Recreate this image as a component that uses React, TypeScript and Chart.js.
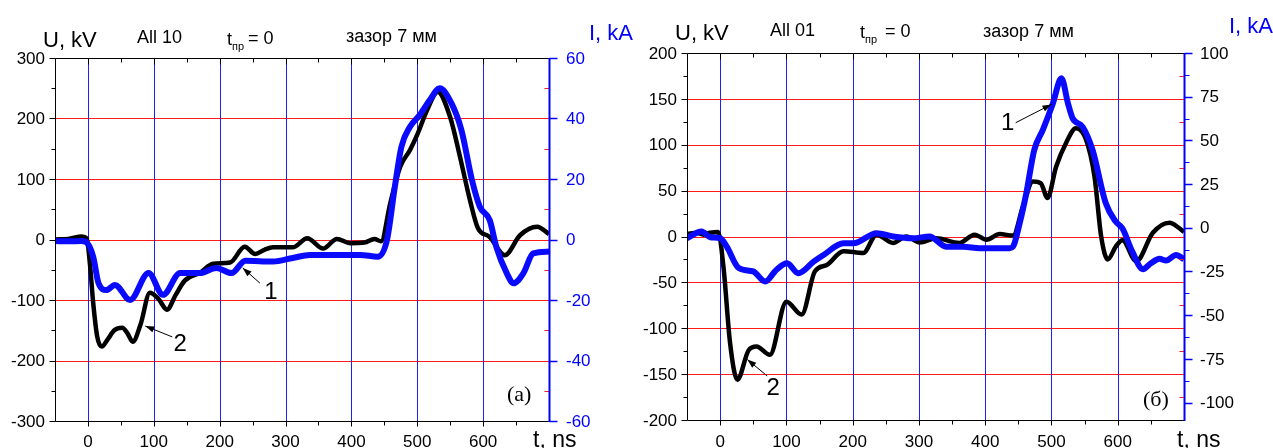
import React, { useEffect, useRef } from "react";
import { Chart, registerables } from "chart.js";
Chart.register(...registerables);

// ---------- Panel (a) ----------
const A_U_T = [-50, -30, -9, -2, 3, 8, 14, 21, 30, 40, 52, 60, 68, 80, 94, 107, 120, 133, 147, 170, 190, 216, 238, 254, 268, 281, 311, 333, 357, 378, 398, 420, 435, 445, 459, 474, 489, 501, 515, 531, 550, 565, 580, 592, 610, 633, 656, 682, 700];
const A_U = [0, 1, 5, 2, -40, -105, -160, -177, -165, -150, -146, -155, -169, -140, -88, -98, -116, -92, -68, -55, -40, -38, -12, -24, -17, -13, -13, 2, -15, 1, -6, -5, 1, -3, 60, 120, 148, 176, 214, 244, 202, 136, 65, 19, 4, -26, 7, 21, 9];
const A_I_T = [-50, -30, -10, -3, 8, 16, 28, 41, 64, 92, 114, 140, 170, 195, 218, 239, 281, 311, 337, 413, 440, 454, 466, 476, 489, 504, 519, 534, 552, 567, 583, 595, 610, 620, 636, 646, 661, 676, 700];
const A_I = [-0.5, -0.6, -0.5, -0.8, -5.7, -14.4, -16.7, -15, -20, -11.1, -18.3, -11.1, -11.1, -9.4, -11.1, -7, -7.3, -6.1, -5.1, -5.1, -5.7, -0.2, 17.5, 30.7, 37.3, 41.2, 46.1, 50, 45, 36.2, 19.7, 10.8, 6.4, -2.4, -11.2, -14.5, -11.2, -4.6, -4];

// ---------- Panel (б) ----------
const B_U_T = [-50, -35, -25, -15, -3, 5, 15, 26, 43, 55, 75, 100, 123, 143, 161, 186, 216, 236, 261, 281, 301, 326, 361, 384, 402, 422, 442, 457, 472, 484, 494, 507, 522, 537, 552, 565, 575, 585, 597, 607, 628, 653, 678, 693, 700];
const B_U = [3, 4, 2, 4, 5, -33, -116, -156, -124, -120, -129, -71, -85, -38, -31, -16, -18, 2, -7, 0, -6.5, -2, -7, 2, -3.6, 2.6, 1, 33, 60, 58, 42, 76, 102, 118, 106, 65, 0, -25, -11, -4, -27, 4, 15, 9, 5];
const B_I_T = [-50, -28, -15, 0, 10, 28, 50, 68, 85, 101, 118, 141, 156, 186, 201, 236, 261, 291, 316, 341, 367, 392, 437, 442, 452, 462, 474, 487, 502, 515, 525, 532, 547, 562, 582, 597, 607, 622, 638, 650, 663, 673, 688, 700];
const B_I = [-6, -2.2, -5.4, -6, -10.8, -23, -25, -30.8, -24, -20.3, -26, -19.4, -15.6, -8.9, -8.9, -3.1, -5, -6, -5, -10.8, -10.8, -11.7, -11.7, -10.8, 2.6, 19.7, 44.5, 56, 71, 85.5, 71, 62.6, 57.8, 44.5, 14, 3.5, -0.3, -13.7, -23.7, -20.3, -17.8, -18.8, -15.6, -18];

// ---------- Ticks ----------
const X_TICKS = [0, 100, 200, 300, 400, 500, 600];
const A_KV_TICKS = [-300, -200, -100, 0, 100, 200, 300];
const A_KA_TICKS = [-60, -40, -20, 0, 20, 40, 60];
const B_KV_TICKS = [-200, -150, -100, -50, 0, 50, 100, 150, 200];
const B_KA_TICKS = [-100, -75, -50, -25, 0, 25, 50, 75, 100];

// annotations: [label, tipT, tipU, tailT, tailU, labelT, labelU]
const A_NOTES: [string, number, number, number, number, number, number][] = [
  ["1", 235, -47, 261, -72, 278, -88],
  ["2", 87, -143, 128, -161, 140, -174],
];
const B_NOTES: [string, number, number, number, number, number, number][] = [
  ["1", 500, 144, 446, 124, 434, 123],
  ["2", 41, -134, 71, -152, 80, -165],
];

const SANS = "'Liberation Sans', Arial, sans-serif";
const SERIF = "'Liberation Serif', 'Times New Roman', serif";

type Panel = {
  width: number;
  offset: number;
  padding: { left: number; right: number; top: number; bottom: number };
  uT: number[]; u: number[]; iT: number[]; i: number[];
  kvTicks: number[]; kaTicks: number[];
  kvMinor: number; kaMinor: number | null;
  kaLabelColor: string; kaLabelX: number;
  kvLabelX: number;
  notes: [string, number, number, number, number, number, number][];
  texts: { t: string; x: number; y: number; font: string; color: string; align?: CanvasTextAlign }[];
};

function num(v: number) {
  return String(v);
}

function makePlugin(p: Panel) {
  return {
    id: "decor",
    beforeDatasetsDraw(chart: any) {
      const { ctx, chartArea: a, scales } = chart;
      const xs = scales.x, ys = scales.y;
      ctx.save();
      ctx.lineWidth = 1;
      ctx.strokeStyle = "#ff1a1a";
      const kmin = p.kvTicks[0], kmax = p.kvTicks[p.kvTicks.length - 1];
      for (const v of p.kvTicks) {
        if (v === kmin || v === kmax) continue;
        const py = Math.round(ys.getPixelForValue(v)) + 0.5;
        ctx.beginPath(); ctx.moveTo(a.left, py); ctx.lineTo(a.right, py); ctx.stroke();
      }
      ctx.strokeStyle = "#2020ff";
      for (const v of X_TICKS) {
        const px = Math.round(xs.getPixelForValue(v)) + 0.5;
        ctx.beginPath(); ctx.moveTo(px, a.top); ctx.lineTo(px, a.bottom); ctx.stroke();
      }
      ctx.restore();
    },
    afterDraw(chart: any) {
      const { ctx, chartArea: a, scales } = chart;
      const xs = scales.x, ys = scales.y, ys1 = scales.y1;
      ctx.save();
      const L = a.left + 0.5, R = a.right + 0.5, T = a.top + 0.5, B = a.bottom + 0.5;
      const line = (x1: number, y1: number, x2: number, y2: number, c: string, w = 1) => {
        ctx.strokeStyle = c; ctx.lineWidth = w;
        ctx.beginPath(); ctx.moveTo(x1, y1); ctx.lineTo(x2, y2); ctx.stroke();
      };
      // x ticks (bottom outward, top inward)
      for (let v = -50; v <= 700; v += 50) {
        const px = Math.round(xs.getPixelForValue(v)) + 0.5;
        const major = v % 100 === 0;
        if (v === -50 || v === 700) continue;
        line(px, B, px, B + (major ? 5 : 4), "#000");
        line(px, T, px, T + (major ? 6 : 4), "#000");
      }
      // left kV ticks outward
      const kmin = p.kvTicks[0], kmax = p.kvTicks[p.kvTicks.length - 1];
      const kstep = p.kvTicks[1] - p.kvTicks[0];
      for (let v = kmin; v <= kmax + 1e-6; v += p.kvMinor) {
        const py = Math.round(ys.getPixelForValue(v)) + 0.5;
        const major = Math.abs((v - kmin) % kstep) < 1e-6;
        line(L - (major ? 6 : 4), py, L, py, "#000");
        // red inward ticks on right axis
        line(R - 5, py, R, py, "#ff1a1a", 1);
      }
      // right kA ticks outward
      const amin = ys1.min, amax = ys1.max;
      if (p.kaMinor) {
        for (let v = -200; v <= 200; v += p.kaMinor) {
          if (v < amin || v > amax) continue;
          const py = Math.round(ys1.getPixelForValue(v)) + 0.5;
          line(R, py, R + 5, py, "#0000ff");
        }
      }
      for (const v of p.kaTicks) {
        const py = Math.round(ys1.getPixelForValue(v)) + 0.5;
        line(R, py, R + 8, py, "#0000ff", 1.5);
      }
      // axis lines
      line(L, T, R, T, "#000");
      line(L, B, R, B, "#000");
      line(L, T, L, B, "#000");
      line(R, T - 0.5, R, B + 0.5, "#0000ff", 2);

      // tick labels
      ctx.font = `17px ${SANS}`;
      ctx.fillStyle = "#000";
      ctx.textBaseline = "alphabetic";
      ctx.textAlign = "center";
      for (const v of X_TICKS) {
        ctx.fillText(num(v), xs.getPixelForValue(v), 447);
      }
      ctx.textAlign = "right";
      ctx.textBaseline = "middle";
      for (const v of p.kvTicks) {
        ctx.fillText(num(v), p.kvLabelX, ys.getPixelForValue(v) + 1);
      }
      ctx.textAlign = "left";
      ctx.fillStyle = p.kaLabelColor;
      for (const v of p.kaTicks) {
        ctx.fillText(num(v), p.kaLabelX, ys1.getPixelForValue(v) + 1);
      }

      // annotations
      ctx.fillStyle = "#000";
      for (const [lab, tt, tu, at, au, lt, lu] of p.notes) {
        const x1 = xs.getPixelForValue(at), y1 = ys.getPixelForValue(au);
        const x2 = xs.getPixelForValue(tt), y2 = ys.getPixelForValue(tu);
        line(x1, y1, x2, y2, "#000", 1);
        const ang = Math.atan2(y2 - y1, x2 - x1);
        const hl = 9, hw = 3.2;
        ctx.beginPath();
        ctx.moveTo(x2, y2);
        ctx.lineTo(x2 - hl * Math.cos(ang) + hw * Math.sin(ang), y2 - hl * Math.sin(ang) - hw * Math.cos(ang));
        ctx.lineTo(x2 - hl * Math.cos(ang) - hw * Math.sin(ang), y2 - hl * Math.sin(ang) + hw * Math.cos(ang));
        ctx.closePath();
        ctx.fill();
        ctx.font = `24px ${SANS}`;
        ctx.textAlign = "center";
        ctx.textBaseline = "middle";
        ctx.fillText(lab, xs.getPixelForValue(lt), ys.getPixelForValue(lu));
      }

      // free texts
      ctx.textBaseline = "alphabetic";
      for (const tx of p.texts) {
        ctx.font = tx.font;
        ctx.fillStyle = tx.color;
        ctx.textAlign = tx.align || "left";
        ctx.fillText(tx.t, tx.x, tx.y);
      }
      ctx.restore();
    },
  };
}

function pts(t: number[], v: number[]) {
  return t.map((x, k) => ({ x, y: v[k] }));
}

function PanelChart({ p }: { p: Panel }) {
  const ref = useRef<HTMLCanvasElement>(null);
  useEffect(() => {
    if (!ref.current) return;
    const chart = new Chart(ref.current, {
      type: "line",
      data: {
        datasets: [
          {
            data: pts(p.iT, p.i),
            yAxisID: "y1",
            borderColor: "#0a0aff",
            borderWidth: 6,
            pointRadius: 0,
            cubicInterpolationMode: "monotone",
            fill: false,
          },
          {
            data: pts(p.uT, p.u),
            yAxisID: "y",
            borderColor: "#000000",
            borderWidth: 4.5,
            pointRadius: 0,
            cubicInterpolationMode: "monotone",
            fill: false,
          },
        ],
      },
      options: {
        responsive: false,
        animation: false,
        events: [],
        layout: { padding: p.padding },
        plugins: { legend: { display: false }, tooltip: { enabled: false } },
        scales: {
          x: { type: "linear", min: -50, max: 700, display: false },
          y: { type: "linear", min: p.kvTicks[0], max: p.kvTicks[p.kvTicks.length - 1], display: false },
          y1: { type: "linear", min: p.kaTicks[0] === -100 ? -110 : p.kaTicks[0], max: p.kaTicks[p.kaTicks.length - 1], display: false, position: "right" },
        },
      } as any,
      plugins: [makePlugin(p)],
    });
    return () => chart.destroy();
  }, []);
  return (
    <canvas
      ref={ref}
      width={p.width}
      height={448}
      style={{ position: "absolute", left: p.offset, top: 0, width: p.width, height: 448, display: "block" }}
    />
  );
}

const F17 = `18px ${SANS}`;
const F22 = `22px ${SANS}`;

const PANEL_A: Panel = {
  width: 640,
  offset: 0,
  padding: { left: 55, right: 91, top: 58, bottom: 27 },
  uT: A_U_T, u: A_U, iT: A_I_T, i: A_I,
  kvTicks: A_KV_TICKS, kaTicks: A_KA_TICKS,
  kvMinor: 50, kaMinor: null,
  kaLabelColor: "#0000ff", kaLabelX: 566,
  kvLabelX: 45,
  notes: A_NOTES,
  texts: [
    { t: "U, kV", x: 43, y: 47, font: F22, color: "#000" },
    { t: "All 10", x: 137, y: 43, font: F17, color: "#000" },
    { t: "t", x: 227, y: 45, font: F17, color: "#000" },
    { t: "пр", x: 232, y: 50, font: `11px ${SANS}`, color: "#000" },
    { t: "= 0", x: 248, y: 44, font: F17, color: "#000" },
    { t: "зазор 7 мм", x: 346, y: 42, font: F17, color: "#000" },
    { t: "I, kA", x: 589, y: 40, font: F22, color: "#0000ff" },
    { t: "(a)", x: 507, y: 401, font: `22px ${SERIF}`, color: "#000" },
    { t: "t, ns", x: 533, y: 447, font: `23px ${SANS}`, color: "#000" },
  ],
};

const PANEL_B: Panel = {
  width: 633,
  offset: 640,
  padding: { left: 47, right: 89, top: 53, bottom: 28 },
  uT: B_U_T, u: B_U, iT: B_I_T, i: B_I,
  kvTicks: B_KV_TICKS, kaTicks: B_KA_TICKS,
  kvMinor: 25, kaMinor: 12.5,
  kaLabelColor: "#000", kaLabelX: 560,
  kvLabelX: 37,
  notes: B_NOTES,
  texts: [
    { t: "U, kV", x: 35, y: 40, font: F22, color: "#000" },
    { t: "All 01", x: 130, y: 36, font: F17, color: "#000" },
    { t: "t", x: 220, y: 38, font: F17, color: "#000" },
    { t: "пр", x: 225, y: 43, font: `11px ${SANS}`, color: "#000" },
    { t: "= 0", x: 245, y: 37, font: F17, color: "#000" },
    { t: "зазор 7 мм", x: 343, y: 37, font: F17, color: "#000" },
    { t: "I, kA", x: 589, y: 33, font: F22, color: "#0000ff" },
    { t: "(б)", x: 503, y: 406, font: `22px ${SERIF}`, color: "#000" },
    { t: "t, ns", x: 537, y: 447, font: `23px ${SANS}`, color: "#000" },
  ],
};

export default function App() {
  return (
    <div style={{ position: "absolute", left: 0, top: 0, width: 1273, height: 448, background: "#fff", overflow: "hidden" }}>
      <PanelChart p={PANEL_A} />
      <PanelChart p={PANEL_B} />
    </div>
  );
}
